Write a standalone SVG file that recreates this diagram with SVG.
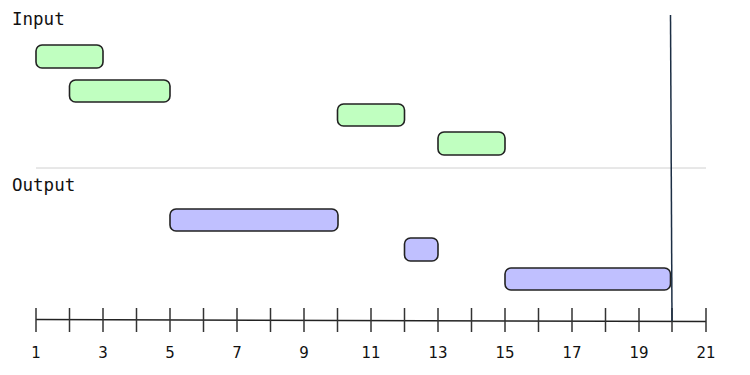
<svg xmlns="http://www.w3.org/2000/svg" width="750" height="375" viewBox="0 0 750 375">
<style>
.lbl{font-family:"DejaVu Sans Mono","Liberation Mono",monospace;font-size:17.5px;fill:#111}
.num{font-family:"DejaVu Sans","Liberation Sans",sans-serif;font-size:15px;fill:#111;text-anchor:middle}
.in rect{fill:#c0ffc0;stroke:#222;stroke-width:1.6}
.out rect{fill:#c0c0ff;stroke:#222;stroke-width:1.6}
.tick{stroke:#333;stroke-width:1.5}
</style>
<rect width="750" height="375" fill="#fff"/>
<text class="lbl" x="12" y="25">Input</text>
<text class="lbl" x="12" y="191">Output</text>
<line x1="36" y1="168" x2="706" y2="168" stroke="#d0d0d0" stroke-width="1"/>
<g id="input-1" class="in"><rect x="36" y="45" width="67" height="23" rx="6"/></g>
<g id="input-2" class="in"><rect x="69.5" y="80" width="100.5" height="22" rx="6"/></g>
<g id="input-3" class="in"><rect x="337.5" y="104" width="67" height="22" rx="6"/></g>
<g id="input-4" class="in"><rect x="438" y="132" width="67" height="23" rx="6"/></g>
<g id="output-1" class="out"><rect x="170" y="209" width="168" height="22" rx="6"/></g>
<g id="output-2" class="out"><rect x="404.5" y="238" width="33.5" height="23" rx="6"/></g>
<g id="output-3" class="out"><rect x="505" y="268" width="165.5" height="22" rx="6"/></g>
<g id="axis">
<line x1="36" y1="319.5" x2="706" y2="321.5" stroke="#222" stroke-width="1.5"/>
<g class="tick">
<line x1="36" y1="308" x2="36" y2="332"/>
<line x1="69.5" y1="308" x2="69.5" y2="332"/>
<line x1="103" y1="308" x2="103" y2="332"/>
<line x1="136.5" y1="308" x2="136.5" y2="332"/>
<line x1="170" y1="308" x2="170" y2="332"/>
<line x1="203.5" y1="308" x2="203.5" y2="332"/>
<line x1="237" y1="308" x2="237" y2="332"/>
<line x1="270.5" y1="308" x2="270.5" y2="332"/>
<line x1="304" y1="308" x2="304" y2="332"/>
<line x1="337.5" y1="308" x2="337.5" y2="332"/>
<line x1="371" y1="308" x2="371" y2="332"/>
<line x1="404.5" y1="308" x2="404.5" y2="332"/>
<line x1="438" y1="308" x2="438" y2="332"/>
<line x1="471.5" y1="308" x2="471.5" y2="332"/>
<line x1="505" y1="308" x2="505" y2="332"/>
<line x1="538.5" y1="308" x2="538.5" y2="332"/>
<line x1="572" y1="308" x2="572" y2="332"/>
<line x1="605.5" y1="308" x2="605.5" y2="332"/>
<line x1="639" y1="308" x2="639" y2="332"/>
<line x1="672" y1="308" x2="672" y2="332"/>
<line x1="706" y1="308" x2="706" y2="332"/>
</g>
<text class="num" x="36" y="358">1</text>
<text class="num" x="103" y="358">3</text>
<text class="num" x="170" y="358">5</text>
<text class="num" x="237" y="358">7</text>
<text class="num" x="304" y="358">9</text>
<text class="num" x="371" y="358">11</text>
<text class="num" x="438" y="358">13</text>
<text class="num" x="505" y="358">15</text>
<text class="num" x="572" y="358">17</text>
<text class="num" x="639" y="358">19</text>
<text class="num" x="706" y="358">21</text>
</g>
<line id="now" x1="670.5" y1="15" x2="672" y2="321" stroke="#1c2e44" stroke-width="1.5"/>
</svg>
